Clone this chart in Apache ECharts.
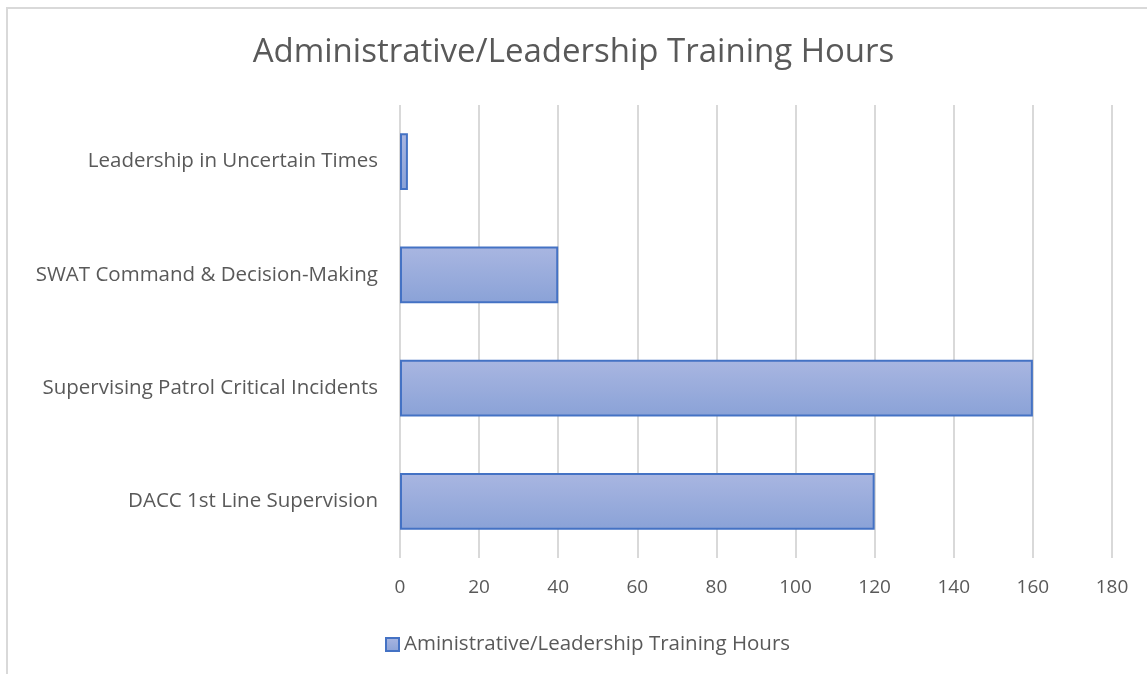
<!DOCTYPE html>
<html>
<head>
<meta charset="utf-8">
<script src="https://cdn.jsdelivr.net/npm/echarts@6/dist/echarts.min.js"></script>
<style>
  html, body { margin: 0; padding: 0; background: #fff; }
  #chart { width: 1147px; height: 674px; }
</style>
</head>
<body>
<div id="chart"></div>
<script>
var categories = [
  'DACC 1st Line Supervision',
  'Supervising Patrol Critical Incidents',
  'SWAT Command & Decision-Making',
  'Leadership in Uncertain Times'
]
var hours = [120, 160, 40, 2]
var seriesName = 'Aministrative/Leadership Training Hours'

var font = '"Open Sans", "Noto Sans", sans-serif'
var grey = '#595959'

var chart = echarts.init(document.getElementById('chart'))
var option = {
  animation: false,
  graphic: [{
    type: 'rect',
    shape: { x: 7, y: 8, width: 1200, height: 700 },
    style: { fill: 'none', stroke: '#d9d9d9', lineWidth: 2 },
    silent: true
  }],
  title: {
    text: 'Administrative/Leadership Training Hours',
    left: 'center',
    top: 31,
    textStyle: { color: grey, fontFamily: font, fontSize: 33, fontWeight: 'normal' }
  },
  legend: {
    data: [seriesName],
    left: 380,
    top: 629,
    icon: 'rect',
    itemWidth: 13,
    itemHeight: 13,
    itemGap: 6,
    textStyle: { color: grey, fontFamily: font, fontSize: 20.5 }
  },
  grid: {
    left: 400,
    right: 35,
    top: 105,
    bottom: 116
  },
  xAxis: {
    type: 'value',
    min: 0,
    max: 180,
    interval: 20,
    axisLine: { show: false },
    axisTick: { show: false },
    axisLabel: { color: grey, fontFamily: font, fontSize: 19, margin: 20 },
    splitLine: { lineStyle: { color: '#d9d9d9', width: 2 } }
  },
  yAxis: {
    type: 'category',
    data: categories,
    axisLine: { show: false },
    axisTick: { show: false },
    axisLabel: { color: grey, fontFamily: font, fontSize: 20.5, margin: 22 }
  },
  series: [{
    name: seriesName,
    type: 'bar',
    data: hours,
    barCategoryGap: '50%',
    itemStyle: {
      color: new echarts.graphic.LinearGradient(0, 0, 0, 1, [
        { offset: 0, color: '#a9b6e1' },
        { offset: 1, color: '#8aa2d7' }
      ]),
      borderColor: '#4472c4',
      borderWidth: 2
    }
  }]
}
chart.setOption(option)
</script>
</body>
</html>
